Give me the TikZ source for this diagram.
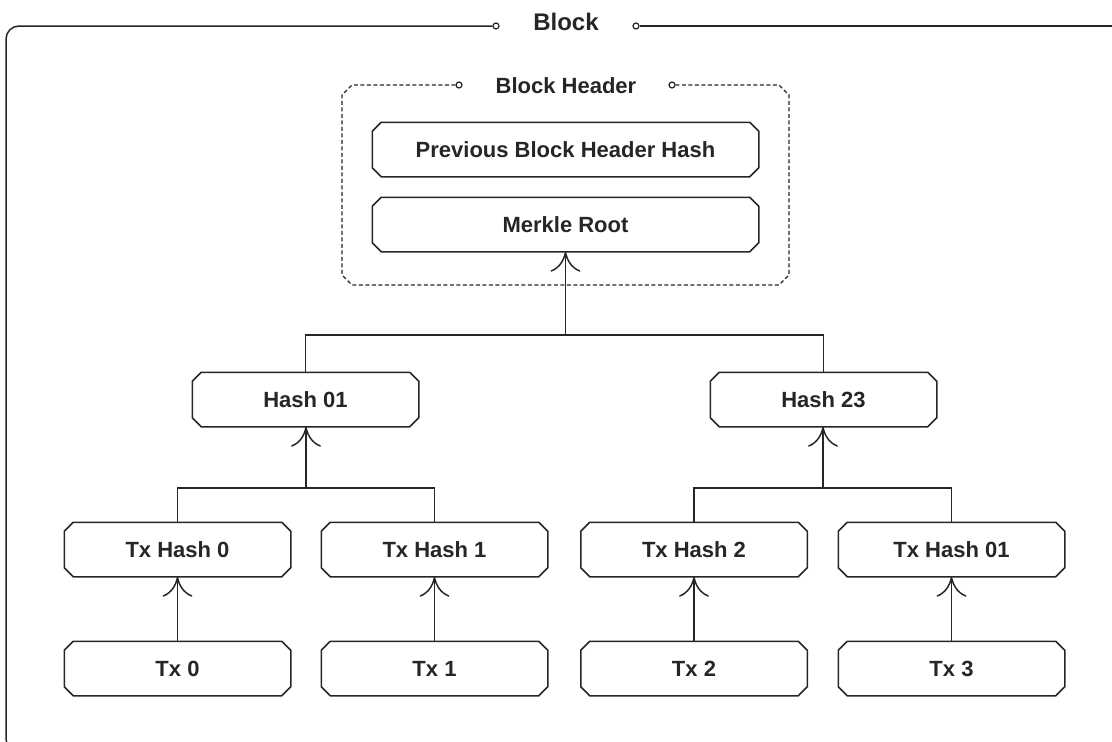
\documentclass[tikz,border=0pt]{standalone}
\usepackage{fontspec}
\setmainfont{Liberation Sans}
\usetikzlibrary{arrows.meta,calc}
\definecolor{ink}{HTML}{262626}
\begin{document}
\begin{tikzpicture}[x=1pt,y=-1pt,
  line width=1.5pt, draw=ink,
  boxtext/.style={minimum width=225pt, minimum height=53pt, inner sep=0pt,
    font=\bfseries\fontsize{22}{26}\selectfont, text=ink},
  widebox/.style={boxtext, minimum width=385pt},
  frametitle/.style={inner sep=0pt, font=\bfseries\fontsize{22}{26}\selectfont, text=ink},
  endring/.style={circle, draw=ink, fill=white, line width=1.2pt, inner sep=0pt, minimum size=6pt},
  boxline/.style={draw=ink, line width=1.5pt},
  hdrline/.style={draw=ink, line width=1.2pt, dash pattern=on 4pt off 2.5pt},
  arr/.style={draw=ink, line width=1.5pt,
    -{Computer Modern Rightarrow[length=20pt, width=30pt, line width=1.5pt]}}]
\useasboundingbox (0,0) rectangle (1112,742);
\clip (0,0) rectangle (1112,742);

% outer block frame
\node[frametitle, font=\bfseries\fontsize{24}{28}\selectfont] (blk) at (566,22) {Block};
\node[endring] (blkL) at (496,26) {};
\node[endring] (blkR) at (636,26) {};
\draw[rounded corners=13pt] (blkL.west) -- (6,26) -- (6,752) -- (200,752);
\draw (blkR.east) -- (1130,26);

% block header frame
\node[frametitle] (hdr) at (566,86) {Block Header};
\node[endring] (hdrL) at (459,85) {};
\node[endring] (hdrR) at (672,85) {};
\draw[hdrline] (hdrL.west) -- (352,85) -- (342,95) -- (342,275) -- (352,285)
  -- (779,285) -- (789,275) -- (789,95) -- (779,85) -- (hdrR.east);

% header fields
\node[widebox] (prev) at (565.5,149.5) {Previous Block Header Hash};
\node[widebox] (merkle) at (565.5,224.5) {Merkle Root};

% merkle tree
\node[boxtext] (h01) at (305.5,399.5) {Hash 01};
\node[boxtext] (h23) at (823.5,399.5) {Hash 23};

\node[boxtext] (th0) at (177.5,549.5) {Tx Hash 0};
\node[boxtext] (th1) at (434.5,549.5) {Tx Hash 1};
\node[boxtext] (th2) at (694,549.5) {Tx Hash 2};
\node[boxtext] (th3) at (951.5,549.5) {Tx Hash 01};

\node[boxtext] (t0) at (177.5,668.5) {Tx 0};
\node[boxtext] (t1) at (434.5,668.5) {Tx 1};
\node[boxtext] (t2) at (694,668.5) {Tx 2};
\node[boxtext] (t3) at (951.5,668.5) {Tx 3};

% chamfered outlines of all boxes
\foreach \n in {prev,merkle,h01,h23,th0,th1,th2,th3,t0,t1,t2,t3}{
  \draw[boxline]
    ($(\n.north west)+(9,0)$) -- ($(\n.north east)+(-9,0)$) -- ($(\n.north east)+(0,9)$)
    -- ($(\n.south east)+(0,-9)$) -- ($(\n.south east)+(-9,0)$) -- ($(\n.south west)+(9,0)$)
    -- ($(\n.south west)+(0,-9)$) -- ($(\n.north west)+(0,9)$) -- cycle;
}

% junctions
\coordinate (jroot) at (565.5,335);
\coordinate (jleft) at (306,488);
\coordinate (jright) at (823,488);

% connectors
\draw (h01.north) -- (h01.north |- jroot) -- (h23.north |- jroot) -- (h23.north);
\draw[arr] (jroot) -- (merkle.south);

\draw (th0.north) -- (th0.north |- jleft) -- (th1.north |- jleft) -- (th1.north);
\draw[arr] (jleft) -- (h01.south -| jleft);
\draw (th2.north) -- (th2.north |- jright) -- (th3.north |- jright) -- (th3.north);
\draw[arr] (jright) -- (h23.south -| jright);

\draw[arr] (t0.north) -- (th0.south);
\draw[arr] (t1.north) -- (th1.south);
\draw[arr] (t2.north) -- (th2.south);
\draw[arr] (t3.north) -- (th3.south);
\end{tikzpicture}
\end{document}
